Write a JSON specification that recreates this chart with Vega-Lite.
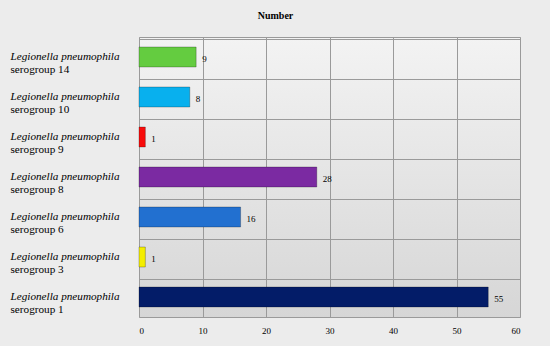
{
  "$schema": "https://vega.github.io/schema/vega-lite/v6.json",
  "autosize": "none",
  "width": 381,
  "height": 280,
  "padding": {"left": 139, "top": 37, "right": 30, "bottom": 29},
  "background": "#ececec",
  "title": {"text": "Number", "font": "Liberation Serif", "fontSize": 10, "fontWeight": "bold", "color": "#000000", "anchor": "middle", "dx": -54, "offset": 16},
  "config": {
    "view": {
      "stroke": "#9a9a9a",
      "strokeWidth": 1,
      "fill": {"gradient": "linear", "x1": 0, "y1": 0, "x2": 0, "y2": 1, "stops": [{"offset": 0, "color": "#f3f3f3"}, {"offset": 1, "color": "#d6d6d6"}]}
    },
    "axis": {"labelFont": "Liberation Serif", "titleFont": "Liberation Serif", "labelColor": "#000000"}
  },
  "data": {
    "values": [
      {"group": "serogroup 14", "value": 9},
      {"group": "serogroup 10", "value": 8},
      {"group": "serogroup 9", "value": 1},
      {"group": "serogroup 8", "value": 28},
      {"group": "serogroup 6", "value": 16},
      {"group": "serogroup 3", "value": 1},
      {"group": "serogroup 1", "value": 55}
    ]
  },
  "layer": [
    {
      "mark": {"type": "bar", "size": 20, "stroke": "#00000040", "strokeWidth": 1},
      "encoding": {
        "x": {"field": "value", "type": "quantitative", "scale": {"domain": [0, 60], "nice": false},
              "axis": {"title": null, "values": [0, 10, 20, 30, 40, 50, 60], "labelFontSize": 9, "grid": true, "gridColor": "#9a9a9a", "gridOpacity": 1, "domain": false, "ticks": false, "labelPadding": 9}},
        "y": {"field": "group", "type": "nominal", "sort": null,
              "axis": {"orient": "left", "title": null, "labelExpr": "'Legionella pneumophila'", "labelFontStyle": "italic", "labelFontSize": 11.2, "labelAlign": "left", "labelPadding": 129, "labelOffset": 0, "ticks": false, "domain": false, "grid": true, "bandPosition": 0, "gridColor": "#9a9a9a", "gridOpacity": 1}},
        "color": {"field": "group", "type": "nominal", "legend": null,
                  "scale": {"domain": ["serogroup 14", "serogroup 10", "serogroup 9", "serogroup 8", "serogroup 6", "serogroup 3", "serogroup 1"],
                            "range": ["#64cc40", "#08b0ee", "#f80c0c", "#7b2aa2", "#2270d0", "#f4ee00", "#031c68"]}}
      }
    },
    {
      "mark": {"type": "text", "align": "left", "dx": 6, "dy": 2, "font": "Liberation Serif", "fontSize": 9, "color": "#000000"},
      "encoding": {
        "x": {"field": "value", "type": "quantitative"},
        "y": {"field": "group", "type": "nominal", "sort": null,
              "axis": {"orient": "left", "title": null, "labelFontSize": 11.2, "labelAlign": "left", "labelPadding": 129, "labelOffset": 12.5, "ticks": false, "domain": false, "grid": false}},
        "text": {"field": "value", "type": "quantitative"}
      }
    }
  ],
  "resolve": {"axis": {"y": "independent"}}
}
